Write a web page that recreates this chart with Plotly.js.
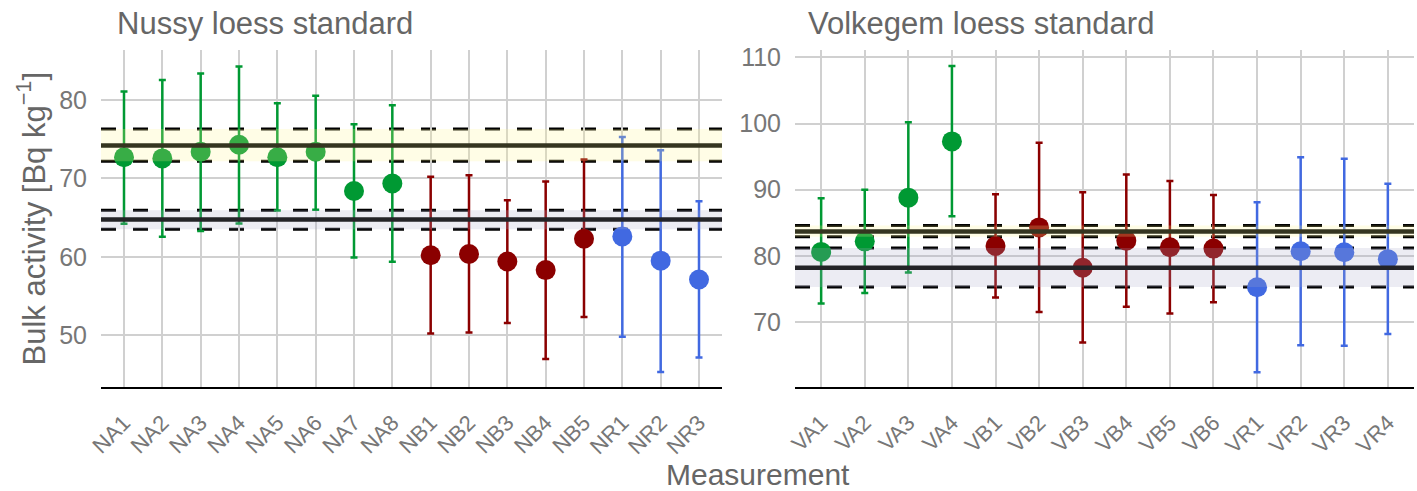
<!DOCTYPE html>
<html>
<head>
<meta charset="utf-8">
<script src="https://cdn.plot.ly/plotly-3.0.1.min.js"></script>
<style>html,body{margin:0;padding:0;background:#fff;} #chart{width:1417px;height:491px;}</style>
</head>
<body>
<div id="chart"></div>
<script>
// ---- Nussy loess standard ----
const nussyCats  = ['NA1','NA2','NA3','NA4','NA5','NA6','NA7','NA8','NB1','NB2','NB3','NB4','NB5','NR1','NR2','NR3'];
const nussyGroup = ['A','A','A','A','A','A','A','A','B','B','B','B','B','R','R','R'];
const nussyVals  = [72.7, 72.55, 73.4, 74.3, 72.7, 73.4, 68.4, 69.35, 60.2, 60.35, 59.4, 58.3, 62.3, 62.6, 59.5, 57.1];
const nussyLow   = [64.2, 62.55, 63.3, 64.25, 65.9, 66.0, 59.9, 59.35, 50.2, 50.35, 51.55, 46.95, 52.3, 49.8, 45.3, 47.15];
const nussyHigh  = [81.1, 82.55, 83.4, 84.3, 79.6, 80.55, 76.9, 79.35, 70.2, 70.4, 67.2, 69.6, 72.4, 75.3, 73.6, 67.1];
const nussyRefMean = [74.2, 64.75];
const nussyRefLow  = [72.2, 63.5];
const nussyRefHigh = [76.3, 65.95];

// ---- Volkegem loess standard ----
const volkCats  = ['VA1','VA2','VA3','VA4','VB1','VB2','VB3','VB4','VB5','VB6','VR1','VR2','VR3','VR4'];
const volkGroup = ['A','A','A','A','B','B','B','B','B','B','R','R','R','R'];
const volkVals  = [80.6, 82.2, 88.8, 97.3, 81.5, 84.3, 78.2, 82.3, 81.3, 81.1, 75.25, 80.7, 80.55, 79.5];
const volkLow   = [72.8, 74.4, 77.5, 86.0, 73.7, 71.5, 66.9, 72.3, 71.3, 73.0, 62.4, 66.5, 66.4, 68.2];
const volkHigh  = [88.7, 90.0, 100.2, 108.7, 89.3, 97.1, 89.6, 92.3, 91.3, 89.2, 88.1, 94.9, 94.7, 90.9];
const volkRefMean = [83.7, 78.2];
const volkRefLow  = [82.9, 75.3];
const volkRefHigh = [84.6, 81.2];

const groupColors = {A: '#009933', B: '#8B0000', R: '#4169E1'};
const bandFill = ['rgba(255,246,140,0.22)', 'rgba(170,170,200,0.22)'];
const meanLineColor = ['#353520', '#232327'];

const FONT = 'Liberation Sans, Arial, Helvetica, sans-serif';

function makeTraces(cats, groups, vals, low, high, xa, ya) {
  const out = [];
  ['A','B','R'].forEach(g => {
    const idx = cats.map((c,i)=>i).filter(i => groups[i] === g);
    out.push({
      type: 'scatter', mode: 'markers',
      x: idx.map(i => cats[i]),
      y: idx.map(i => vals[i]),
      xaxis: xa, yaxis: ya,
      marker: {color: groupColors[g], size: 20, line: {width: 0}},
      error_y: {
        type: 'data', symmetric: false,
        array: idx.map(i => high[i] - vals[i]),
        arrayminus: idx.map(i => vals[i] - low[i]),
        color: groupColors[g], thickness: 2.5, width: 3.5
      },
      showlegend: false, hoverinfo: 'x+y'
    });
  });
  return out;
}

function makeShapes(means, lows, highs, xa, ya) {
  const shapes = [];
  const xref = xa + ' domain';
  for (let k = 0; k < means.length; k++) {
    shapes.push({type:'line', xref:xref, yref:ya, x0:0, x1:1, y0:highs[k], y1:highs[k],
      line:{color:'#000', width:3, dash:'15px,17px'}, layer:'below'});
    shapes.push({type:'line', xref:xref, yref:ya, x0:0, x1:1, y0:lows[k], y1:lows[k],
      line:{color:'#000', width:3, dash:'15px,17px'}, layer:'below'});
    shapes.push({type:'rect', xref:xref, yref:ya, x0:0, x1:1, y0:lows[k], y1:highs[k],
      fillcolor:bandFill[k], line:{width:0}, layer:'above'});
    shapes.push({type:'line', xref:xref, yref:ya, x0:0, x1:1, y0:means[k], y1:means[k],
      line:{color:meanLineColor[k], width:4.5}, layer:'above'});
  }
  return shapes;
}

const data = [].concat(
  makeTraces(nussyCats, nussyGroup, nussyVals, nussyLow, nussyHigh, 'x', 'y'),
  makeTraces(volkCats, volkGroup, volkVals, volkLow, volkHigh, 'x2', 'y2')
);

const xCommon = {
  type: 'category', showgrid: true, gridcolor: '#d0d0d0', gridwidth: 2,
  showline: true, linecolor: '#000', linewidth: 2.2, zeroline: false,
  tickangle: -45, ticks: 'outside', ticklen: 12, tickcolor: 'rgba(0,0,0,0)',
  tickfont: {family: FONT, size: 22, color: '#777'}
};
const yCommon = {
  showgrid: true, gridcolor: '#d0d0d0', gridwidth: 2, zeroline: false,
  showline: false, ticks: 'outside', ticklen: 8, tickcolor: 'rgba(0,0,0,0)',
  tickfont: {family: FONT, size: 25, color: '#777'}, dtick: 10
};

const layout = {
  width: 1417, height: 491,
  margin: {l: 0, r: 0, t: 50, b: 104},
  paper_bgcolor: '#fff', plot_bgcolor: 'rgba(0,0,0,0)',
  font: {family: FONT, color: '#666'},
  xaxis: Object.assign({}, xCommon, {domain: [101/1417, 722/1417], categoryorder: 'array', categoryarray: nussyCats, range: [-0.6, nussyCats.length - 0.4], anchor: 'y'}),
  yaxis: Object.assign({}, yCommon, {range: [43.38, 86.39], anchor: 'x'}),
  xaxis2: Object.assign({}, xCommon, {domain: [795/1417, 1414/1417], categoryorder: 'array', categoryarray: volkCats, range: [-0.6, volkCats.length - 0.4], anchor: 'y2'}),
  yaxis2: Object.assign({}, yCommon, {range: [60.18, 111.12], anchor: 'x2'}),
  shapes: [].concat(
    makeShapes(nussyRefMean, nussyRefLow, nussyRefHigh, 'x', 'y'),
    makeShapes(volkRefMean, volkRefLow, volkRefHigh, 'x2', 'y2')
  ),
  annotations: [
    {text: 'Nussy loess standard', xref: 'paper', yref: 'paper', x: 115/1417, y: 1 + (50-23)/337,
     xanchor: 'left', yanchor: 'middle', showarrow: false, font: {family: FONT, size: 31, color: '#666'}},
    {text: 'Volkegem loess standard', xref: 'paper', yref: 'paper', x: 806/1417, y: 1 + (50-23)/337,
     xanchor: 'left', yanchor: 'middle', showarrow: false, font: {family: FONT, size: 31, color: '#666'}},
    {text: 'Measurement', xref: 'paper', yref: 'paper', x: 758/1417, y: -(474-387)/337,
     xanchor: 'center', yanchor: 'middle', showarrow: false, font: {family: FONT, size: 30, color: '#666'}},
    {text: 'Bulk activity [Bq kg<sup>−1</sup>]', xref: 'paper', yref: 'paper', x: 31/1417, y: 0.5,
     xanchor: 'center', yanchor: 'middle', textangle: -90, showarrow: false, font: {family: FONT, size: 31, color: '#666'}}
  ]
};

Plotly.newPlot('chart', data, layout, {displayModeBar: false, staticPlot: true});
</script>
</body>
</html>
